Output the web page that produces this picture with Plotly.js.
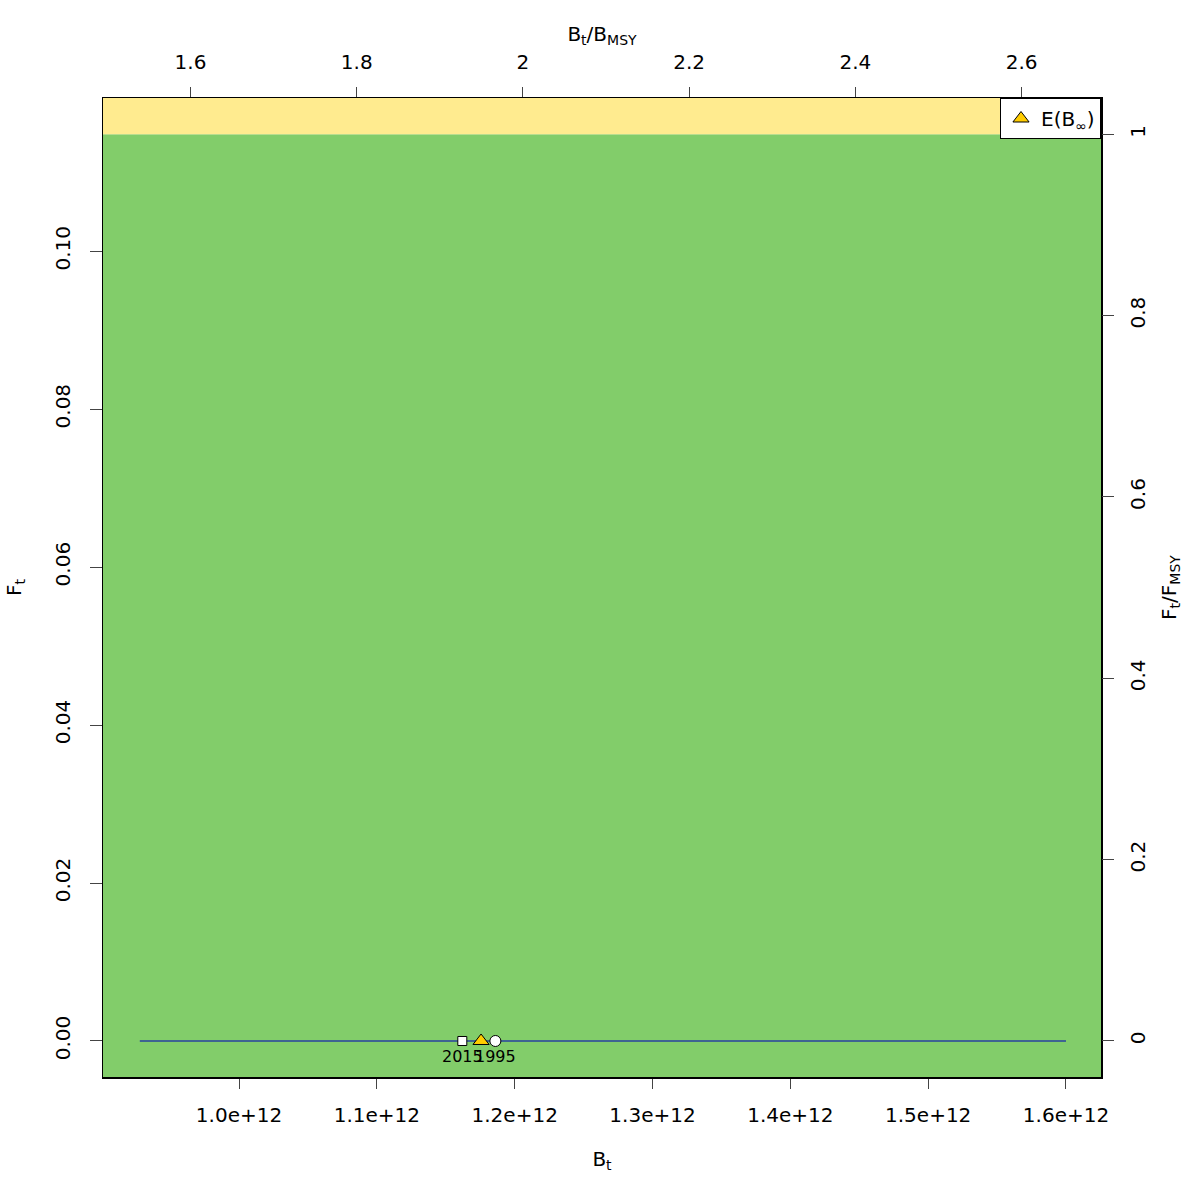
<!DOCTYPE html>
<html>
<head>
<meta charset="utf-8">
<script src="https://cdn.plot.ly/plotly-3.0.1.min.js"></script>
<style>html,body{margin:0;padding:0;background:#fff;}</style>
</head>
<body>
<div id="chart" style="width:1200px;height:1200px;"></div>
<script>
// Reference points
const Bmsy = 0.603e12;
const Fmsy = 0.1148;
// Biomass / fishing trajectory
const trajB = [1.186e12, 1.60e12, 0.928e12, 1.162e12];
const trajF = [0, 0, 0, 0];
// Labelled years
const yearLabels = ["1995", "2015"];
const yearB = [1.186e12, 1.162e12];
const yearF = [0, 0];
// Expected equilibrium biomass
const eBinfB = [1.1756e12];
const eBinfF = [0];
// Tick values / labels
const xTicks = [1.0e12, 1.1e12, 1.2e12, 1.3e12, 1.4e12, 1.5e12, 1.6e12];
const xTickText = ["1.0e+12", "1.1e+12", "1.2e+12", "1.3e+12", "1.4e+12", "1.5e+12", "1.6e+12"];
const x2Ticks = [1.6, 1.8, 2.0, 2.2, 2.4, 2.6];
const x2TickText = ["1.6", "1.8", "2", "2.2", "2.4", "2.6"];
const yTicks = [0, 0.02, 0.04, 0.06, 0.08, 0.10];
const yTickText = ["0.00", "0.02", "0.04", "0.06", "0.08", "0.10"];
const y2Ticks = [0, 0.2, 0.4, 0.6, 0.8, 1];
const y2TickText = ["0", "0.2", "0.4", "0.6", "0.8", "1"];

const xRange = [0.9013e12, 1.6254e12];
const yRange = [-0.00456, 0.1194];

const FONT = "DejaVu Sans, sans-serif";
const tickFont = {family: FONT, size: 20, color: "#000"};
const titleFont = {family: FONT, size: 20, color: "#000"};

const traces = [
  {x: trajB, y: trajF, type: "scatter", mode: "lines",
   line: {color: "rgb(40,65,160)", width: 1.5}, showlegend: false, hoverinfo: "skip"},
  {x: [yearB[1]], y: [yearF[1]], type: "scatter", mode: "markers",
   marker: {symbol: "square", size: 9, color: "#fff", line: {color: "#000", width: 1}},
   showlegend: false},
  {x: eBinfB, y: eBinfF, type: "scatter", mode: "markers", name: "E(B<sub>∞</sub>)",
   marker: {symbol: "triangle-up", size: 14, color: "#FFCC00", line: {color: "#000", width: 1}},
   showlegend: true},
  {x: [yearB[0]], y: [yearF[0]], type: "scatter", mode: "markers",
   marker: {symbol: "circle", size: 11, color: "#fff", line: {color: "#000", width: 1}},
   showlegend: false},
  {x: [xRange[0] / Bmsy], y: [yRange[0] / Fmsy], xaxis: "x2", yaxis: "y2", type: "scatter",
   mode: "markers", marker: {opacity: 0}, showlegend: false, hoverinfo: "skip"}
];

const annotations = yearLabels.map((t, i) => ({
  x: yearB[i], y: yearF[i], xref: "x", yref: "y", text: t, showarrow: false,
  yshift: -16, font: {family: FONT, size: 16, color: "#000"}
}));

const layout = {
  width: 1200, height: 1200,
  margin: {l: 103, r: 99, t: 98, b: 123},
  paper_bgcolor: "#fff", plot_bgcolor: "#fff",
  font: {family: FONT, size: 20, color: "#000"},
  annotations: annotations,
  xaxis: {range: xRange, tickvals: xTicks, ticktext: xTickText, tickfont: tickFont,
    ticks: "outside", ticklen: 10, tickcolor: "#444", showgrid: false, zeroline: false,
    showline: true, linecolor: "#000", linewidth: 1.5, mirror: true,
    ticklabelstandoff: 9,
    title: {text: "B<sub>t</sub>", font: titleFont, standoff: 26}},
  xaxis2: {range: [xRange[0] / Bmsy, xRange[1] / Bmsy], overlaying: "x", side: "top", anchor: "y",
    tickvals: x2Ticks, ticktext: x2TickText, tickfont: tickFont,
    ticks: "outside", ticklen: 10, tickcolor: "#444", showgrid: false, zeroline: false,
    ticklabelstandoff: 10,
    title: {text: "B<sub>t</sub>/B<sub>MSY</sub>", font: titleFont, standoff: 3}},
  yaxis: {range: yRange, tickvals: yTicks, ticktext: yTickText, tickfont: tickFont,
    tickangle: -90, ticks: "outside", ticklen: 12, tickcolor: "#444", showgrid: false, zeroline: false,
    showline: true, linecolor: "#000", linewidth: 1.5, mirror: true,
    ticklabelstandoff: 12,
    title: {text: "F<sub>t</sub>", font: titleFont, standoff: 23}},
  yaxis2: {range: [yRange[0] / Fmsy, yRange[1] / Fmsy], overlaying: "y", side: "right", anchor: "x",
    tickvals: y2Ticks, ticktext: y2TickText, tickfont: tickFont,
    tickangle: -90, ticks: "outside", ticklen: 12, tickcolor: "#444", showgrid: false, zeroline: false,
    ticklabelstandoff: 7,
    title: {text: "F<sub>t</sub>/F<sub>MSY</sub>", font: titleFont, standoff: 12}},
  shapes: [
    {type: "rect", xref: "x", yref: "y", layer: "below", x0: Bmsy, x1: 3 * xRange[1], y0: -1, y1: Fmsy,
     fillcolor: "rgb(130,205,106)", line: {width: 0}},
    {type: "rect", xref: "x", yref: "y", layer: "below", x0: Bmsy, x1: 3 * xRange[1], y0: Fmsy, y1: 1,
     fillcolor: "rgb(255,235,143)", line: {width: 0}}
  ],
  legend: {x: 1, xanchor: "right", y: 1, yanchor: "top", bgcolor: "#fff",
    bordercolor: "#000", borderwidth: 1, font: {family: FONT, size: 20},
    itemwidth: 30},
  showlegend: true
};

Plotly.newPlot("chart", traces, layout, {displayModeBar: false, staticPlot: true});
</script>
</body>
</html>
